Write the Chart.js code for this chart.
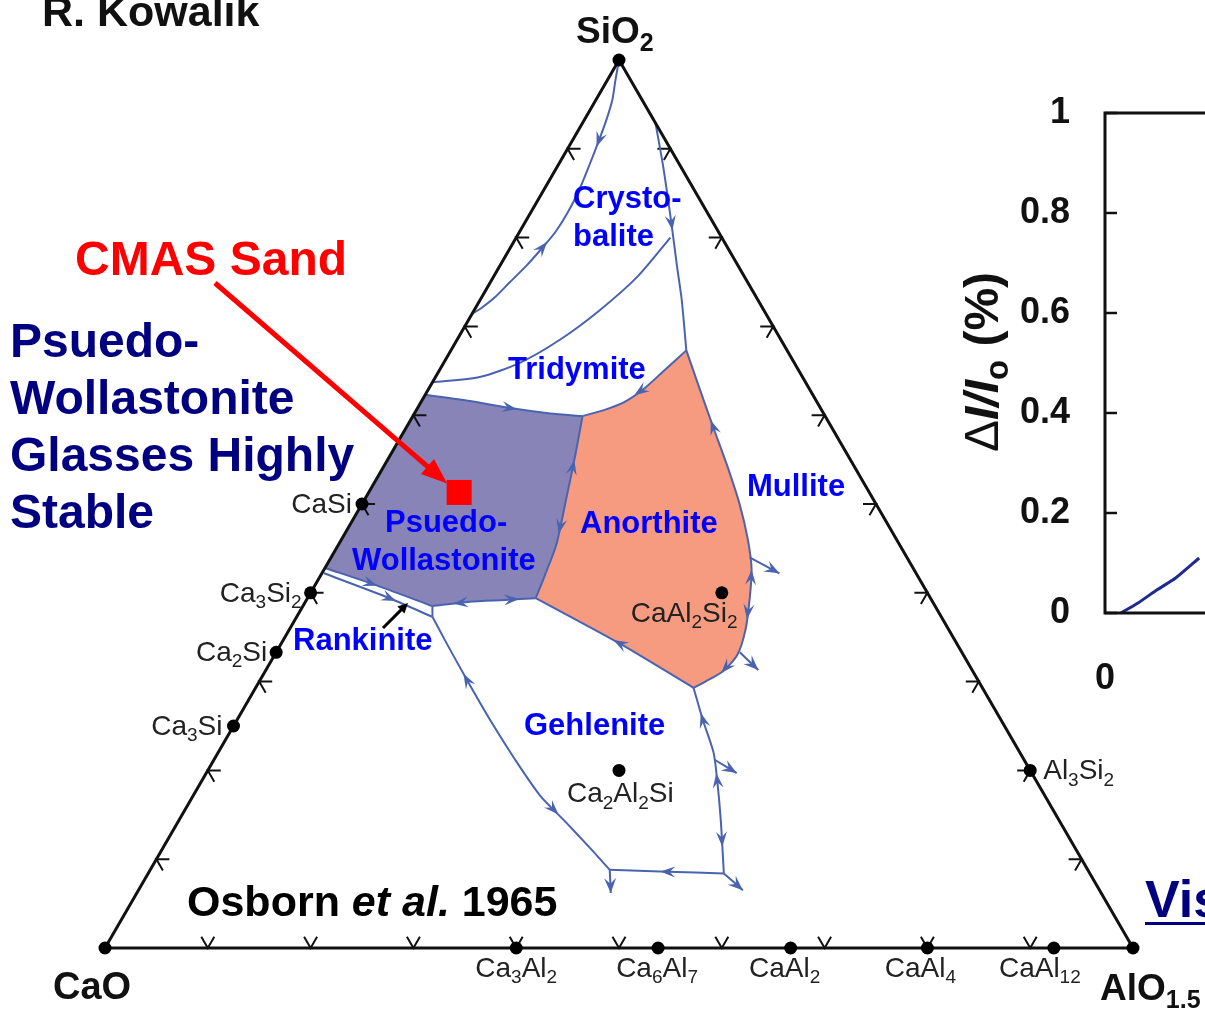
<!DOCTYPE html>
<html>
<head>
<meta charset="utf-8">
<title>CaO–AlO1.5–SiO2 liquidus diagram</title>
<script src="https://cdn.jsdelivr.net/npm/chart.js@4.4.1/dist/chart.umd.min.js"></script>
<style>
  html, body { margin: 0; padding: 0; background: #fff; overflow: hidden; }
  #wrap { position: relative; width: 1205px; height: 1013px; overflow: hidden; background: #fff; }
  #ternary { position: absolute; left: 0; top: 0; }
  #intensity { position: absolute; left: 940px; top: 0; }
</style>
</head>
<body>
<div id="wrap">
  <canvas id="ternary" width="1205" height="1013"></canvas>
  <canvas id="intensity" width="700" height="720"></canvas>
</div>
<script>
// ---------------------------------------------------------------------------
// Compositions are mole percent [AlO1.5, SiO2]; CaO makes up the balance.
// ---------------------------------------------------------------------------
const vertexNames = ['CaO', 'AlO1.5', 'SiO2'];
const vertexComp = [[0, 0], [100, 0], [0, 100]];

const compoundNames = ['CaSi', 'Ca3Si2', 'Ca2Si', 'Ca3Si', 'Ca3Al2', 'Ca6Al7', 'CaAl2',
                       'CaAl4', 'CaAl12', 'Al3Si2', 'CaAl2Si2', 'Ca2Al2Si'];
const compoundComp = [[0, 50], [0, 40], [0, 33.3], [0, 25], [40, 0], [53.8, 0], [66.7, 0],
                      [80, 0], [92.3, 0], [80, 20], [40, 40], [40, 20]];

const cmasSand = [8.8, 51.3];

// Field boundaries (cotectic / liquidus curves)
const cristobaliteLimit = [[0, 100], [0.8, 97.7], [1.6, 95.5], [2.2, 93.0], [2.6, 90.8], [3.0, 88.4],
  [3.4, 85.7], [3.6, 82.9], [3.5, 80.6], [3.1, 78.8], [2.6, 76.9], [1.9, 75.0], [1.3, 73.3], [0.6, 72.1], [0, 71.4]];
const silicaMullite = [[7.1, 92.9], [10.3, 88.0], [14.3, 81.6], [17.3, 76.7], [19.6, 73.0], [22.9, 67.3]];
const cristobaliteTridymite = [[15.0, 80.0], [14.0, 75.6], [12.2, 71.8], [10.0, 68.5], [7.4, 65.9], [4.3, 64.3], [0, 63.7]];
const tridymiteWollastonite = [[0, 62.3], [4.7, 61.6], [9.0, 60.8], [13.2, 60.2], [16.5, 59.9]];
const tridymiteAnorthite = [[16.5, 59.9], [18.3, 60.6], [19.8, 61.5], [21.0, 63.1], [21.9, 65.1], [22.9, 67.3]];
const wollastoniteAnorthite = [[16.5, 59.9], [18.0, 55.5], [19.6, 50.5], [21.2, 45.4], [21.8, 42.0], [22.2, 39.4]];
const anorthiteMullite = [[22.9, 67.3], [26.5, 62.8], [29.8, 58.7], [33.3, 54.4], [36.8, 49.9], [39.6, 45.9],
  [41.6, 42.6], [43.1, 39.2], [44.4, 35.8], [45.0, 33.0], [44.5, 31.1], [43.4, 30.0], [42.6, 29.3]];
const anorthiteGehlenite = [[22.2, 39.4], [32.9, 34.3], [42.6, 29.3]];
const wollastoniteGehlenite = [[12.6, 38.5], [16.0, 39.0], [19.3, 39.2], [22.2, 39.4]];
const wollastoniteRankinite = [[0, 42.8], [6.4, 40.7], [12.6, 38.5]];
const rankiniteDicalcium = [[0.2, 42.2], [7.7, 39.5], [13.2, 37.3]];
const rankiniteStep = [[12.6, 38.5], [13.2, 37.3]];
const gehleniteWest = [[13.2, 37.3], [15.7, 34.7], [20.1, 30.2], [24.6, 25.7], [29.3, 21.2], [33.7, 17.2],
  [37.7, 14.2], [41.5, 11.3], [44.7, 8.8]];
const gehleniteSouth = [[44.7, 8.8], [50.4, 8.6], [56.0, 8.4]];
const gehleniteEast = [[42.6, 29.3], [45.3, 25.7], [48.2, 22.0], [50.1, 18.9], [52.7, 14.4], [56.0, 8.4]];

// Short boundary stubs leaving the drawn fields (arrow at the far end)
const outletSouthWest = [[44.7, 8.8], [46.1, 6.2]];
const outletSouthEast = [[56.0, 8.4], [58.8, 6.5]];
const outletMulliteUpper = [[40.7, 44.0], [44.5, 42.2]];
const outletMulliteLower = [[45.1, 33.3], [47.9, 31.3]];
const outletGehlenite = [[48.7, 21.2], [51.6, 19.7]];

// Direction of falling temperature: [curve, AlO1.5, SiO2, sense along the curve]
const flowArrows = [
  [cristobaliteLimit, 2.5, 91.0, 1],
  [cristobaliteLimit, 3.1, 78.9, -1],
  [silicaMullite, 14.3, 81.6, 1],
  [tridymiteWollastonite, 9.0, 60.8, 1],
  [tridymiteAnorthite, 20.6, 62.8, -1],
  [wollastoniteAnorthite, 18.4, 54.2, -1],
  [wollastoniteAnorthite, 20.6, 47.4, 1],
  [anorthiteMullite, 29.8, 58.7, -1],
  [anorthiteMullite, 42.0, 41.8, -1],
  [anorthiteMullite, 43.7, 37.8, 1],
  [anorthiteMullite, 44.7, 31.5, 1],
  [anorthiteGehlenite, 32.9, 34.3, -1],
  [wollastoniteGehlenite, 15.1, 38.9, -1],
  [wollastoniteGehlenite, 20.0, 39.2, 1],
  [wollastoniteRankinite, 5.2, 41.7, 1],
  [rankiniteDicalcium, 8.0, 39.4, 1],
  [gehleniteWest, 20.1, 30.2, -1],
  [gehleniteWest, 35.8, 15.5, 1],
  [gehleniteSouth, 50.4, 8.6, -1],
  [gehleniteEast, 45.3, 25.7, -1],
  [gehleniteEast, 50.1, 18.9, -1],
  [gehleniteEast, 53.9, 12.2, 1]
];

// Edge tick positions, percent along each side
const edgeTicks = [10, 20, 30, 40, 50, 60, 70, 80, 90];

// Side plot: intensity change
const exposure = [0.34, 0.7, 1.1, 1.5, 2.0];
const intensityDrop = [0, 0.02, 0.046, 0.07, 0.11];
const intensityTicks = [0, 0.2, 0.4, 0.6, 0.8, 1];

// ---------------------------------------------------------------------------
// Layout and styles
// ---------------------------------------------------------------------------
const FONT = '"Liberation Sans", Arial, Helvetica, sans-serif';
const LINE = '#4a63b0';
const PURPLE = '#8884b8';
const SALMON = '#f69b80';
const frame = { left: 105, right: 1133, base: 948, apex: 60, w: 1205, h: 1013 };

const compoundLabelStyle = [
  { dx: -10, dy: 9, align: 'right' }, { dx: -9, dy: 9, align: 'right' },
  { dx: -9, dy: 9, align: 'right' }, { dx: -11, dy: 9, align: 'right' },
  { dx: 0, dy: 29, align: 'center' }, { dx: -1, dy: 29, align: 'center' },
  { dx: -6, dy: 29, align: 'center' }, { dx: -7, dy: 29, align: 'center' },
  { dx: -14, dy: 29, align: 'center' }, { dx: 13, dy: 9, align: 'left' },
  { dx: -91, dy: 29, align: 'left' }, { dx: -52, dy: 32, align: 'left' }
];

const fieldLabels = [
  ['Crysto-', 573, 208], ['balite', 573, 246], ['Tridymite', 508, 379],
  ['Psuedo-', 385, 532], ['Wollastonite', 352, 570], ['Anorthite', 580, 533],
  ['Mullite', 747, 496], ['Rankinite', 293, 650], ['Gehlenite', 524, 735]
];

const noteLines = ['Psuedo-', 'Wollastonite', 'Glasses Highly', 'Stable'];

function toXY(c) { return { x: c[0] / 100 + c[1] / 200, y: c[1] / 100 }; }
function rev(a) { return a.slice().reverse(); }

const wollastoniteField = [[0, 62.3]].concat(
  wollastoniteRankinite, wollastoniteGehlenite.slice(1),
  rev(wollastoniteAnorthite).slice(1), rev(tridymiteWollastonite).slice(1));
const anorthiteField = tridymiteAnorthite.concat(
  anorthiteMullite.slice(1), rev(anorthiteGehlenite).slice(1), rev(wollastoniteAnorthite).slice(1));

const fields = [[wollastoniteField, PURPLE], [anorthiteField, SALMON]];

const boundaryCurves = [cristobaliteLimit, silicaMullite, cristobaliteTridymite, tridymiteWollastonite,
  tridymiteAnorthite, wollastoniteAnorthite, anorthiteMullite, anorthiteGehlenite, wollastoniteGehlenite,
  wollastoniteRankinite, rankiniteDicalcium, rankiniteStep, gehleniteWest, gehleniteSouth, gehleniteEast,
  outletSouthWest, outletSouthEast, outletMulliteUpper, outletMulliteLower, outletGehlenite];
const outlets = [outletSouthWest, outletSouthEast, outletMulliteUpper, outletMulliteLower, outletGehlenite];

// ---------------------------------------------------------------------------
// Text helpers
// ---------------------------------------------------------------------------
function drawFormula(ctx, text, x, y, size, weight, color, align) {
  const parts = text.match(/[0-9.]+|[^0-9.]+/g);
  const subSize = Math.round(size * 0.68);
  const main = `${weight} ${size}px ${FONT}`;
  const sub = `${weight} ${subSize}px ${FONT}`;
  ctx.save();
  ctx.textAlign = 'left';
  ctx.textBaseline = 'alphabetic';
  ctx.fillStyle = color;
  const widths = parts.map(p => { ctx.font = /^[0-9.]+$/.test(p) ? sub : main; return ctx.measureText(p).width; });
  const total = widths.reduce((a, b) => a + b, 0);
  let cx = align === 'center' ? x - total / 2 : align === 'right' ? x - total : x;
  parts.forEach((p, i) => {
    const isSub = /^[0-9.]+$/.test(p);
    ctx.font = isSub ? sub : main;
    ctx.fillText(p, cx, isSub ? y + size * 0.22 : y);
    cx += widths[i];
  });
  ctx.restore();
}

function drawRuns(ctx, runs, x, y, align) {
  ctx.save();
  ctx.textAlign = 'left';
  ctx.textBaseline = 'alphabetic';
  const widths = runs.map(r => { ctx.font = r.font; return ctx.measureText(r.t).width; });
  const total = widths.reduce((a, b) => a + b, 0);
  let cx = align === 'center' ? x - total / 2 : x;
  runs.forEach((r, i) => {
    ctx.font = r.font;
    ctx.fillStyle = r.color;
    ctx.fillText(r.t, cx, y + (r.dy || 0));
    cx += widths[i];
  });
  ctx.restore();
}

function drawText(ctx, t, x, y, font, color, align) {
  ctx.save();
  ctx.font = font;
  ctx.fillStyle = color;
  ctx.textAlign = align || 'left';
  ctx.textBaseline = 'alphabetic';
  ctx.fillText(t, x, y);
  ctx.restore();
}

function arrowHead(ctx, tipX, tipY, ux, uy, len, half) {
  const px = -uy, py = ux;
  const bx = tipX - ux * len, by = tipY - uy * len;
  const nx = tipX - ux * len * 0.62, ny = tipY - uy * len * 0.62;
  ctx.beginPath();
  ctx.moveTo(tipX, tipY);
  ctx.lineTo(bx + px * half, by + py * half);
  ctx.lineTo(nx, ny);
  ctx.lineTo(bx - px * half, by - py * half);
  ctx.closePath();
  ctx.fill();
}

function lineArrow(ctx, x0, y0, x1, y1, width, head, halfW, color) {
  const d = Math.hypot(x1 - x0, y1 - y0), ux = (x1 - x0) / d, uy = (y1 - y0) / d;
  ctx.save();
  ctx.strokeStyle = color; ctx.fillStyle = color; ctx.lineWidth = width;
  ctx.beginPath(); ctx.moveTo(x0, y0); ctx.lineTo(x1 - ux * head * 0.8, y1 - uy * head * 0.8); ctx.stroke();
  ctx.beginPath();
  ctx.moveTo(x1, y1);
  ctx.lineTo(x1 - ux * head - uy * halfW, y1 - uy * head + ux * halfW);
  ctx.lineTo(x1 - ux * head + uy * halfW, y1 - uy * head - ux * halfW);
  ctx.closePath(); ctx.fill();
  ctx.restore();
}

// ---------------------------------------------------------------------------
// Ternary diagram
// ---------------------------------------------------------------------------
function toPx(chart, c) {
  const p = toXY(c);
  return { x: chart.scales.x.getPixelForValue(p.x), y: chart.scales.y.getPixelForValue(p.y) };
}

const ternaryDecor = {
  id: 'ternaryDecor',
  beforeDatasetsDraw(chart) {
    const ctx = chart.ctx;
    ctx.save();
    // primary phase fields
    fields.forEach(([path, color]) => {
      ctx.beginPath();
      path.forEach((c, i) => { const p = toPx(chart, c); i ? ctx.lineTo(p.x, p.y) : ctx.moveTo(p.x, p.y); });
      ctx.closePath();
      ctx.fillStyle = color;
      ctx.fill();
    });
    // edge ticks: two short arms parallel to the other two sides
    const L = 13, s3 = Math.sqrt(3) / 2;
    ctx.strokeStyle = '#111';
    ctx.lineWidth = 2;
    const arms = (p, a, b) => {
      ctx.beginPath();
      ctx.moveTo(p.x + a[0] * L, p.y + a[1] * L); ctx.lineTo(p.x, p.y); ctx.lineTo(p.x + b[0] * L, p.y + b[1] * L);
      ctx.stroke();
    };
    edgeTicks.forEach(f => {
      arms(toPx(chart, [0, f]), [1, 0], [0.5, s3]);
      arms(toPx(chart, [100 - f, f]), [-1, 0], [-0.5, s3]);
      arms(toPx(chart, [f, 0]), [-0.5, -s3], [0.5, -s3]);
    });
    ctx.restore();
  },
  afterDatasetsDraw(chart) {
    const ctx = chart.ctx;
    ctx.save();
    ctx.fillStyle = LINE;
    // flow arrows along boundaries
    flowArrows.forEach(([curve, al, si, dir]) => {
      const pts = curve.map(c => toPx(chart, c));
      const q = toPx(chart, [al, si]);
      let best = null;
      for (let i = 0; i < pts.length - 1; i++) {
        const a = pts[i], b = pts[i + 1];
        const dx = b.x - a.x, dy = b.y - a.y, l2 = dx * dx + dy * dy;
        let t = ((q.x - a.x) * dx + (q.y - a.y) * dy) / l2;
        t = Math.max(0, Math.min(1, t));
        const px = a.x + t * dx, py = a.y + t * dy;
        const d = Math.hypot(q.x - px, q.y - py);
        if (!best || d < best.d) best = { d, px, py, dx, dy };
      }
      const l = Math.hypot(best.dx, best.dy);
      const ux = dir * best.dx / l, uy = dir * best.dy / l;
      arrowHead(ctx, best.px + ux * 7, best.py + uy * 7, ux, uy, 15, 5.5);
    });
    outlets.forEach(o => {
      const a = toPx(chart, o[0]), b = toPx(chart, o[1]);
      const l = Math.hypot(b.x - a.x, b.y - a.y);
      arrowHead(ctx, b.x, b.y, (b.x - a.x) / l, (b.y - a.y) / l, 15, 6);
    });
    ctx.restore();

    // vertex names
    const top = toPx(chart, vertexComp[2]);
    drawFormula(ctx, vertexNames[2], top.x - 43, top.y - 17, 37, 'bold', '#111', 'left');
    const left = toPx(chart, vertexComp[0]);
    drawFormula(ctx, vertexNames[0], left.x - 52, left.y + 51, 38, 'bold', '#111', 'left');
    const right = toPx(chart, vertexComp[1]);
    drawFormula(ctx, vertexNames[1], right.x - 33, right.y + 52, 37, 'bold', '#111', 'left');

    // compound names
    compoundNames.forEach((n, i) => {
      const p = toPx(chart, compoundComp[i]);
      const s = compoundLabelStyle[i];
      drawFormula(ctx, n, p.x + s.dx, p.y + s.dy, 28, 'normal', '#222', s.align);
    });

    // primary field names
    fieldLabels.forEach(([t, x, y]) => drawText(ctx, t, x, y, `bold 31px ${FONT}`, '#0000ff', 'left'));

    // CMAS sand annotation
    const sand = toPx(chart, cmasSand);
    drawText(ctx, 'CMAS Sand', 75, 275, `bold 48px ${FONT}`, '#ff0000', 'left');
    lineArrow(ctx, 215, 283, sand.x - 12, sand.y - 9, 5, 26, 10, '#ff0000');

    // rankinite pointer
    lineArrow(ctx, 383, 628, 408, 603, 3, 10, 5, '#000');

    // notes
    noteLines.forEach((t, i) => drawText(ctx, t, 10, 357 + i * 57, `bold 48px ${FONT}`, '#000080', 'left'));
    drawText(ctx, 'R. Kowalik', 42, 26, `bold 43px ${FONT}`, '#111', 'left');
    drawRuns(ctx, [
      { t: 'Osborn ', font: `bold 43px ${FONT}`, color: '#000' },
      { t: 'et al.', font: `italic bold 43px ${FONT}`, color: '#000' },
      { t: ' 1965', font: `bold 43px ${FONT}`, color: '#000' }
    ], 187, 916, 'left');

    // link caption at the lower right
    drawText(ctx, 'Vis', 1145, 917, `bold 52px ${FONT}`, '#000080', 'left');
    ctx.save();
    ctx.fillStyle = '#000080';
    ctx.fillRect(1145, 922, 70, 3);
    ctx.restore();
  }
};

Chart.defaults.font.family = FONT;

new Chart(document.getElementById('ternary'), {
  type: 'scatter',
  data: {
    datasets: [
      ...boundaryCurves.map(c => ({
        data: c.map(toXY), showLine: true, pointRadius: 0, borderColor: LINE,
        borderWidth: 2, tension: 0.25, fill: false, order: 3
      })),
      {
        data: vertexComp.concat([vertexComp[0]]).map(toXY), showLine: true, pointRadius: 0,
        borderColor: '#111', borderWidth: 3, tension: 0, fill: false, order: 2
      },
      {
        data: compoundComp.concat(vertexComp).map(toXY), showLine: false, pointRadius: 6.5,
        backgroundColor: '#000', borderWidth: 0, order: 1
      },
      {
        data: [toXY(cmasSand)], showLine: false, pointStyle: 'rect', pointRadius: 17.7,
        backgroundColor: '#ff0000', borderWidth: 0, order: 0
      }
    ]
  },
  options: {
    responsive: false,
    animation: false,
    events: [],
    devicePixelRatio: 1,
    layout: { autoPadding: false, padding: 0 },
    plugins: { legend: { display: false }, tooltip: { enabled: false } },
    scales: {
      x: {
        type: 'linear', display: false,
        min: -frame.left / (frame.right - frame.left),
        max: (frame.w - frame.left) / (frame.right - frame.left)
      },
      y: {
        type: 'linear', display: false,
        min: -(frame.h - frame.base) / (frame.base - frame.apex),
        max: frame.base / (frame.base - frame.apex)
      }
    }
  },
  plugins: [ternaryDecor]
});

// ---------------------------------------------------------------------------
// Side plot
// ---------------------------------------------------------------------------
const intensityFrame = {
  id: 'intensityFrame',
  afterDraw(chart) {
    const { ctx, chartArea: a, scales: { y } } = chart;
    ctx.save();
    ctx.strokeStyle = '#111';
    ctx.lineWidth = 3;
    ctx.beginPath();
    ctx.moveTo(a.right + 50, a.top); ctx.lineTo(a.left, a.top); ctx.lineTo(a.left, a.bottom); ctx.lineTo(a.right + 50, a.bottom);
    ctx.stroke();
    ctx.lineWidth = 2.5;
    intensityTicks.forEach(v => {
      const py = y.getPixelForValue(v);
      ctx.beginPath(); ctx.moveTo(a.left, py); ctx.lineTo(a.left + 12, py); ctx.stroke();
    });
    ctx.restore();

    // rotated axis title
    ctx.save();
    ctx.translate(58, 362);
    ctx.rotate(-Math.PI / 2);
    drawRuns(ctx, [
      { t: '\u0394', font: `48px ${FONT}`, color: '#111' },
      { t: 'I', font: `italic bold 48px ${FONT}`, color: '#111' },
      { t: '/', font: `italic bold 48px ${FONT}`, color: '#111' },
      { t: 'I', font: `italic bold 48px ${FONT}`, color: '#111' },
      { t: 'o', font: `bold 33px ${FONT}`, color: '#111', dy: 10 },
      { t: ' (%)', font: `bold 48px ${FONT}`, color: '#111' }
    ], 0, 0, 'center');
    ctx.restore();
  }
};

new Chart(document.getElementById('intensity'), {
  type: 'scatter',
  data: {
    datasets: [{
      data: exposure.map((x, i) => ({ x, y: intensityDrop[i] })),
      showLine: true, pointRadius: 0, borderColor: '#1f2a8f', borderWidth: 3, tension: 0.2, fill: false
    }]
  },
  options: {
    responsive: false,
    animation: false,
    events: [],
    devicePixelRatio: 1,
    layout: { autoPadding: false, padding: { top: 113, right: 35, bottom: 0, left: 0 } },
    plugins: { legend: { display: false }, tooltip: { enabled: false } },
    scales: {
      x: {
        type: 'linear', min: 0, max: 10,
        grid: { display: false, drawTicks: false },
        border: { display: false },
        ticks: { stepSize: 5, padding: 44, color: '#111', font: { size: 36, weight: 'bold' }, maxRotation: 0 },
        afterFit: s => { s.height = 107; }
      },
      y: {
        type: 'linear', min: 0, max: 1,
        grid: { display: false, drawTicks: false },
        border: { display: false },
        ticks: {
          stepSize: 0.2, padding: 35, color: '#111', font: { size: 36, weight: 'bold' },
          callback: v => String(Math.round(v * 10) / 10)
        },
        afterFit: s => { s.width = 165; }
      }
    }
  },
  plugins: [intensityFrame]
});
</script>
</body>
</html>
